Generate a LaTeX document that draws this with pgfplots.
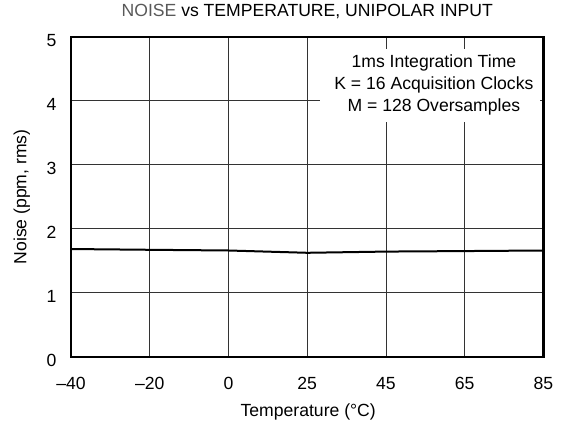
\documentclass[border=0pt]{standalone}
\usepackage{fontspec}
\setmainfont{Liberation Sans}
\usepackage{pgfplots}
\pgfplotsset{compat=1.18}
\begin{document}
\begin{tikzpicture}[font=\fontsize{17.6}{21}\selectfont]
\path[use as bounding box] (0,0) rectangle (570pt,425pt);
\begin{axis}[
  at={(71pt,68.3pt)}, anchor=south west,
  scale only axis, width=472.5pt, height=319.7pt,
  xmin=0, xmax=6, ymin=0, ymax=5,
  xtick={0,1,2,3,4,5,6},
  xticklabels={--40,--20,0,25,45,65,85},
  ytick={0,1,2,3,4,5},
  yticklabels={0,1,2,3,4,5},
  major tick length=0pt,
  grid=major,
  grid style={black!80, line width=1pt},
  axis line style={black, line width=2.2pt},
  xticklabel style={anchor=base, inner sep=0pt, yshift=-32.6pt},
  yticklabel style={anchor=east, inner sep=0pt, xshift=-14.3pt, yshift=-4pt},
  title={\textcolor{black!65}{NOISE} vs TEMPERATURE, UNIPOLAR INPUT},
  title style={at={(axis description cs:0.5,1.0454)}, anchor=base, inner sep=0pt},
  xlabel={Temperature (°C)},
  xlabel style={at={(axis description cs:0.502,-0.1877)}, anchor=base, inner sep=0pt},
  ylabel={Noise (ppm, rms)},
  ylabel style={at={(axis description cs:-0.1043,0.5)}, anchor=center, inner sep=0pt},
]
\addplot[black, line width=2pt] coordinates {
  (0,1.684) (1,1.672) (2,1.661) (3,1.625) (4,1.644) (5,1.652) (6,1.661)
};
\fill[white] (rel axis cs:0.527,0.735) rectangle (rel axis cs:0.9926,0.9637);
\node[align=center, inner sep=0pt, font=\fontsize{17.6}{22}\selectfont]
  at (rel axis cs:0.768,0.849) {1ms Integration Time\\K = 16 Acquisition Clocks\\M = 128 Oversamples};
\end{axis}
\end{tikzpicture}
\end{document}
